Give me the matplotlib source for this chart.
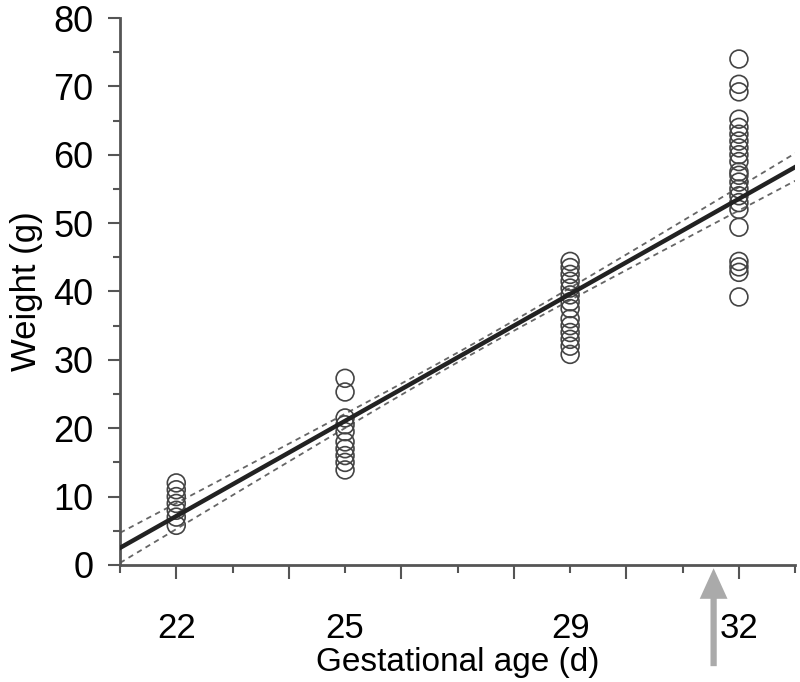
import numpy as np
import matplotlib
matplotlib.use("Agg")
import matplotlib.pyplot as plt
from matplotlib.ticker import MultipleLocator, NullFormatter

plt.rcParams['font.family'] = ['Liberation Sans', 'DejaVu Sans']

# weights (g), per gestational day
ages = [22, 25, 29, 32]
w22 = [5.8, 7.0, 8.0, 9.0, 10.0, 11.0, 12.0]
w25 = [27.3, 25.3, 21.5, 20.5, 19.5, 18.0, 17.0, 16.0, 15.0, 13.9]
w29 = [44.4, 43.5, 42.5, 41.5, 40.5, 39.5, 38.5, 37.5, 36.0, 35.0, 34.0, 33.0, 32.0, 30.8]
w32 = [74.0, 70.3, 69.2, 65.2, 64.0, 63.0, 62.0, 61.0, 60.0, 59.0, 57.5, 57.0,
       56.0, 55.0, 54.0, 53.0, 52.0, 49.4, 44.4, 43.6, 42.8, 39.2]
weights = [w22, w25, w29, w32]

# regression line ends and confidence band
fit_x = [21, 33]
fit_y = [2.5, 58.2]
ci_center = 27.3
ci_min = 0.7
ci_slope = 0.331

arrow_day = 31.55

fig = plt.figure(figsize=(8, 6.82), dpi=100)
ax = fig.add_axes([0.15, 0.1716, 0.844, 0.802])

for a, w in zip(ages, weights):
    ax.scatter([a] * len(w), w, s=165, facecolors='none', edgecolors='#444444',
               linewidths=1.2, zorder=3)

xs = np.linspace(fit_x[0], fit_x[1], 200)
slope = (fit_y[1] - fit_y[0]) / (fit_x[1] - fit_x[0])
ys = fit_y[0] + slope * (xs - fit_x[0])
hw = np.sqrt(ci_min ** 2 + (ci_slope * (xs - ci_center)) ** 2)
ax.plot(xs, ys + hw, color='#666666', lw=1.3, ls=(0, (3, 2.5)), zorder=2)
ax.plot(xs, ys - hw, color='#666666', lw=1.3, ls=(0, (3, 2.5)), zorder=2)
ax.plot(xs, ys, color='#222222', lw=3.2, zorder=4)

ax.set_xlim(21, 33)
ax.set_ylim(0, 80)
for s in ['top', 'right']:
    ax.spines[s].set_visible(False)
for s in ['left', 'bottom']:
    ax.spines[s].set_color('#555555')
    ax.spines[s].set_linewidth(2)

ax.yaxis.set_major_locator(MultipleLocator(10))
ax.yaxis.set_minor_locator(MultipleLocator(5))
ax.xaxis.set_major_locator(MultipleLocator(2))
ax.xaxis.set_minor_locator(MultipleLocator(1))
ax.xaxis.set_major_formatter(NullFormatter())
ax.tick_params(axis='y', which='major', length=9, width=1.5, color='#555555',
               labelsize=26, pad=10)
ax.tick_params(axis='y', which='minor', length=5, width=1.5, color='#555555')
ax.tick_params(axis='x', which='major', length=10, width=1.5, color='#555555')
ax.tick_params(axis='x', which='minor', length=6, width=1.5, color='#555555')

for a in ages:
    ax.text(a, -0.116, str(a), transform=ax.get_xaxis_transform(),
            ha='center', va='center', fontsize=25)

ax.set_ylabel('Weight (g)', fontsize=25, va='center')
ax.yaxis.set_label_coords(-0.138, 0.5)
ax.set_xlabel('Gestational age (d)', fontsize=24, va='center')
ax.xaxis.set_label_coords(0.5, -0.178)

ax.annotate('', xy=(arrow_day, -0.006), xytext=(arrow_day, -0.185),
            xycoords=ax.get_xaxis_transform(), textcoords=ax.get_xaxis_transform(),
            annotation_clip=False,
            arrowprops=dict(arrowstyle='simple,head_width=2.0,head_length=2.2,tail_width=0.45',
                            color='#aaaaaa', lw=0, shrinkA=0, shrinkB=0))

fig.savefig('out.png', dpi=100)
